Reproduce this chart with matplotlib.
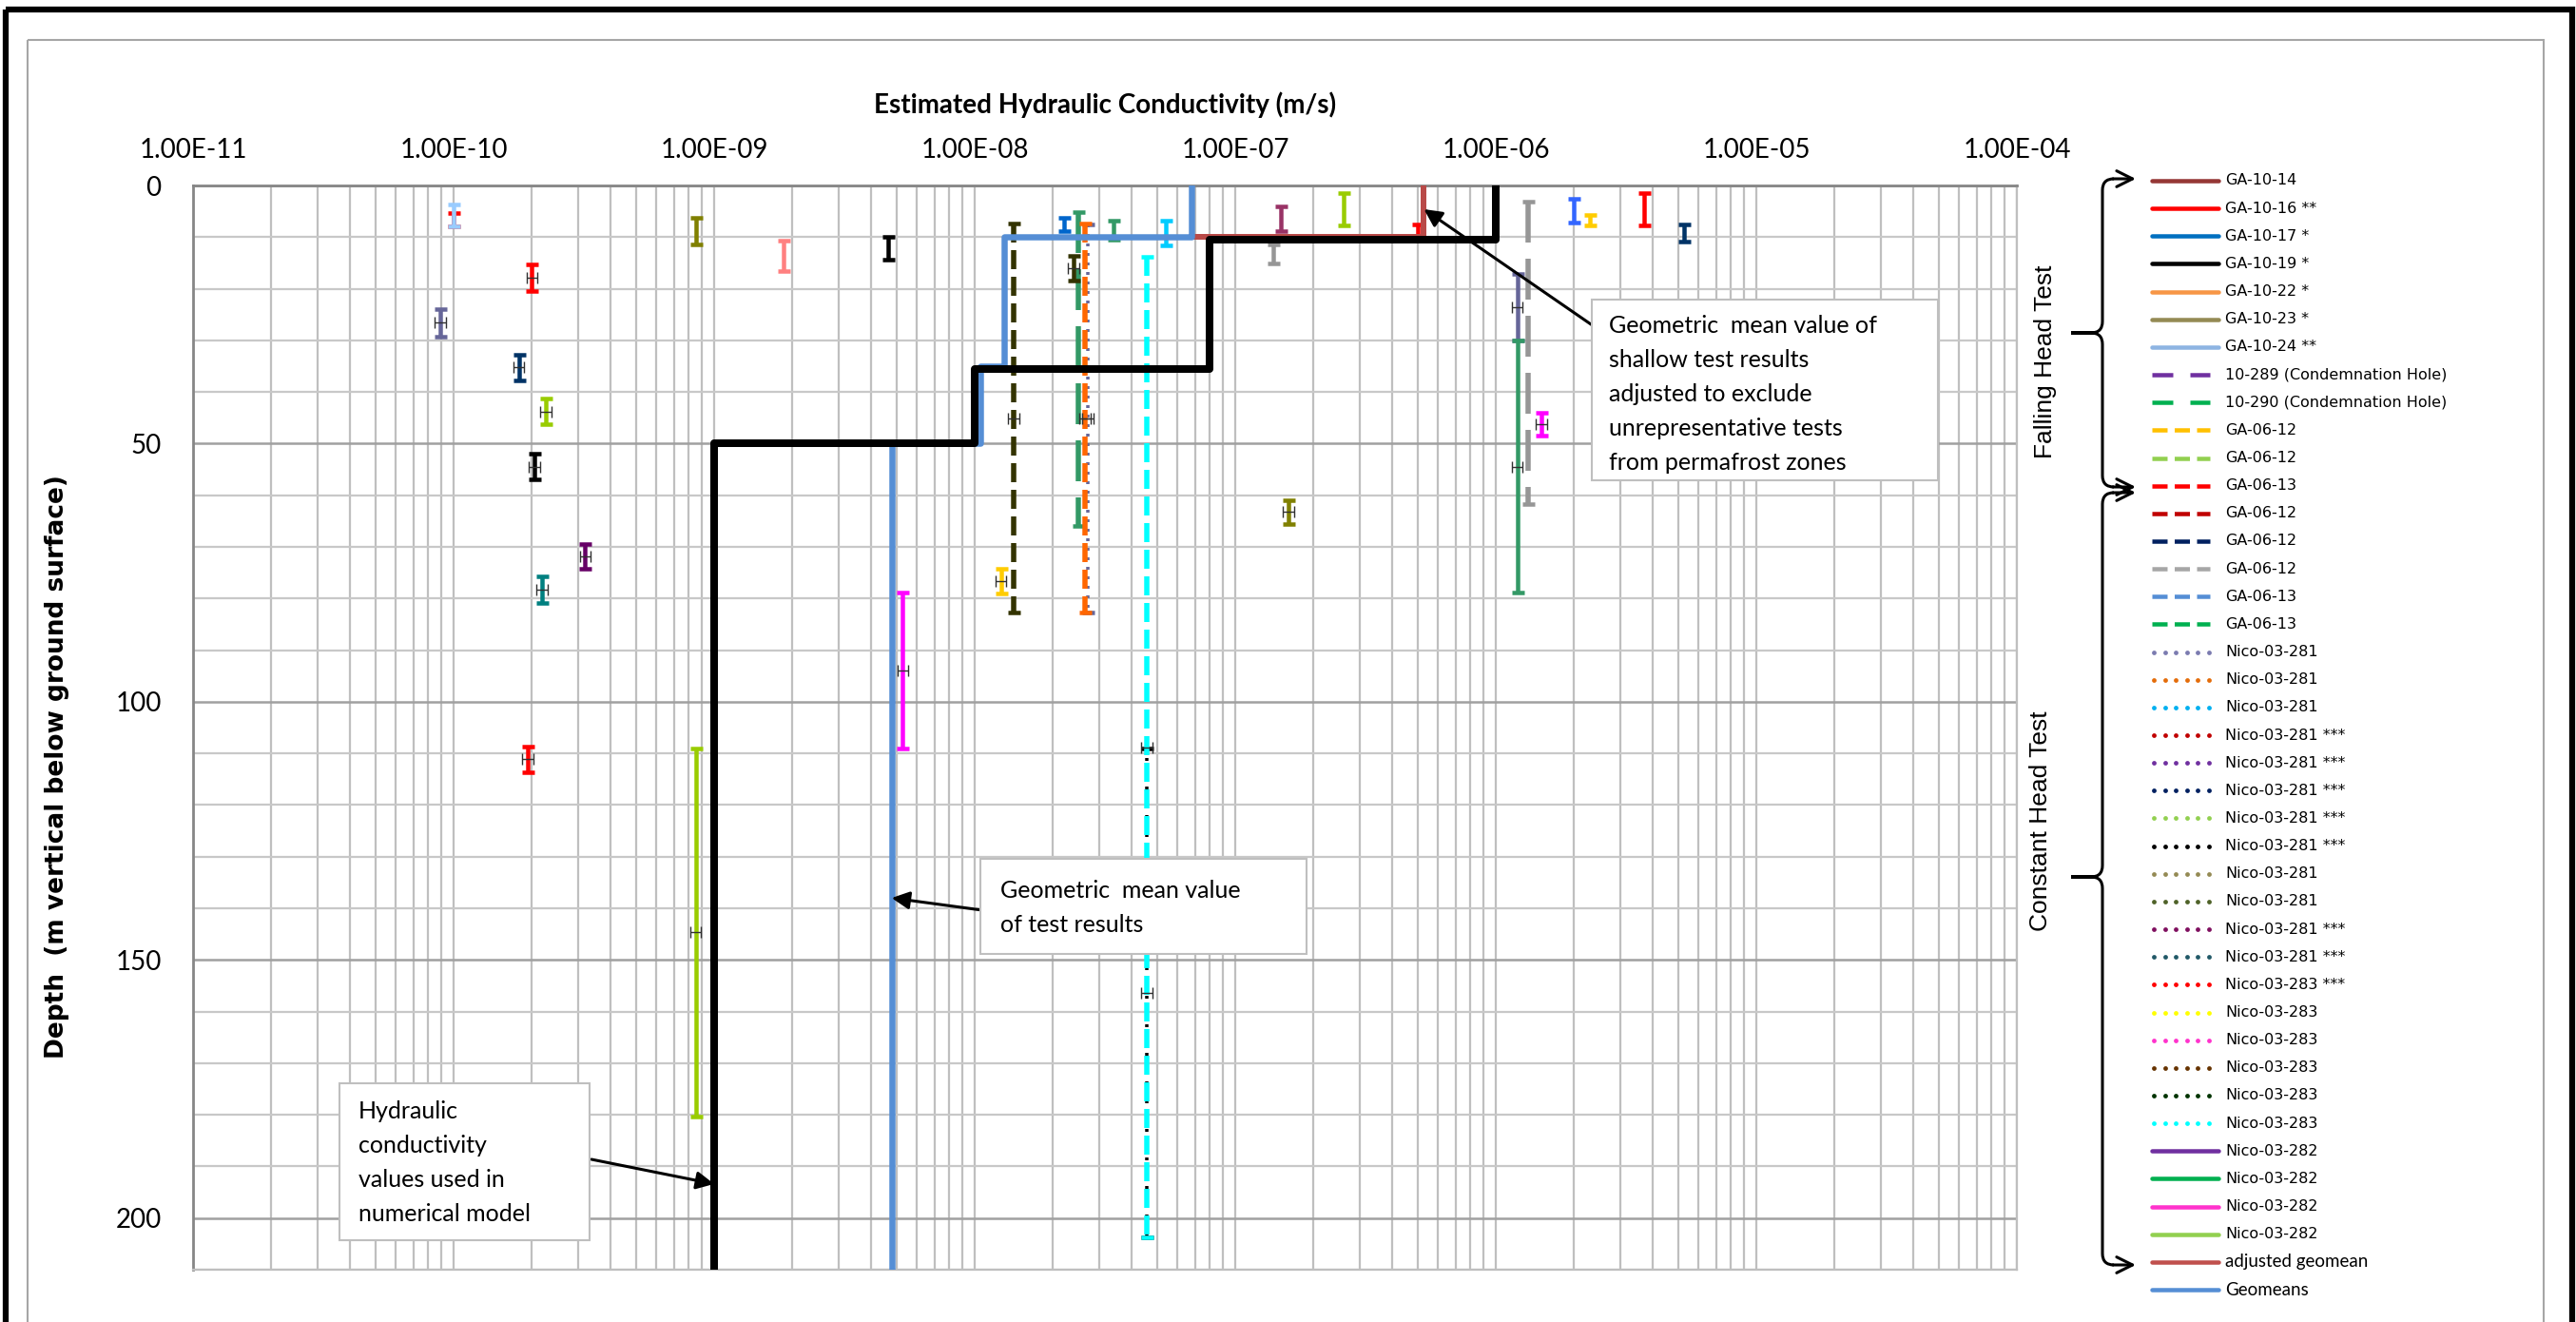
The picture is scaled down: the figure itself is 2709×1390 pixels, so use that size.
import numpy as np
import matplotlib
matplotlib.use('Agg')
import matplotlib.pyplot as plt
from matplotlib.patches import Rectangle, PathPatch
from matplotlib.path import Path
from matplotlib.ticker import FixedLocator, NullFormatter, FuncFormatter

plt.rcParams['lines.scale_dashes'] = False

# ---- packer tests: K (m/s), top / bottom of tested interval (m) ----
k_tests = [1.0e-10, 1.0e-10, 8.5e-10, 1.85e-9, 2.0e-10, 8.9e-11, 1.78e-10, 2.26e-10,
           2.04e-10, 3.2e-10, 2.18e-10, 1.93e-10, 8.5e-10, 5.3e-9, 4.66e-9, 1.41e-8,
           2.2e-8, 2.5e-8, 2.72e-8, 2.65e-8, 2.4e-8, 1.26e-8, 3.4e-8, 5.4e-8,
           4.57e-8, 4.57e-8, 1.5e-7, 2.6e-7, 1.4e-7, 1.6e-7, 5.0e-7, 1.33e-6,
           1.21e-6, 1.21e-6, 1.5e-6, 2.0e-6, 2.3e-6, 3.7e-6, 5.3e-6]
top_depth = [5.3, 3.7, 6.3, 10.7, 15.3, 24.0, 32.7, 41.3,
             52.0, 69.4, 75.8, 108.7, 109.0, 78.8, 9.9, 7.4,
             6.3, 5.2, 7.6, 7.4, 13.7, 74.3, 6.9, 6.8,
             13.9, 109.0, 4.1, 1.5, 11.4, 61.0, 7.5, 3.2,
             17.1, 30.1, 44.0, 2.5, 5.7, 1.5, 7.5]
bot_depth = [7.9, 7.9, 11.4, 16.6, 20.5, 29.2, 37.7, 46.3,
             57.0, 74.2, 80.8, 113.6, 180.3, 109.0, 14.4, 82.7,
             8.9, 66.0, 82.7, 82.7, 18.4, 79.0, 10.5, 11.6,
             203.7, 203.7, 8.9, 7.7, 15.1, 65.5, 10.5, 61.8,
             30.1, 78.8, 48.5, 7.2, 7.7, 7.7, 10.9]
test_colors = ['#FF0000', '#99CCFF', '#808000', '#FF8080', '#FF0000', '#666699', '#003366', '#99CC00',
               '#000000', '#660066', '#008080', '#FF0000', '#99CC00', '#FF00FF', '#000000', '#333300',
               '#0066CC', '#339966', '#666699', '#FF6600', '#333300', '#FFCC00', '#339966', '#00CCFF',
               '#00FFFF', '#000000', '#993366', '#99CC00', '#969696', '#808000', '#FF0000', '#969696',
               '#666699', '#339966', '#FF00FF', '#3366FF', '#FFCC00', '#FF0000', '#003366']
test_styles = ['solid', 'solid', 'solid', 'solid', 'solid', 'solid', 'solid', 'solid',
               'solid', 'solid', 'solid', 'solid', 'solid', 'solid', 'solid', 'dash',
               'solid', 'longdash', 'dot', 'dash', 'solid', 'solid', 'solid', 'solid',
               'dash', 'dot', 'solid', 'solid', 'solid', 'solid', 'solid', 'longdash',
               'solid', 'solid', 'solid', 'solid', 'solid', 'solid', 'solid']
centre_mark = [0, 0, 0, 0, 1, 1, 1, 1,
               1, 1, 1, 1, 1, 1, 0, 1,
               0, 0, 1, 1, 1, 1, 0, 0,
               1, 1, 0, 0, 0, 1, 0, 0,
               1, 1, 1, 0, 0, 0, 0]

# ---- step profiles ----
geomean_k = [6.8e-8, 6.8e-8, 1.3e-8, 1.3e-8, 1.05e-8, 1.05e-8, 4.8e-9, 4.8e-9]
geomean_d = [0, 10, 10, 35, 35, 50, 50, 210]
adjusted_k = [5.3e-7, 5.3e-7, 6.8e-8]
adjusted_d = [0, 10, 10]
model_k = [1e-6, 1e-6, 8e-8, 8e-8, 1e-8, 1e-8, 1e-9, 1e-9]
model_d = [0, 10.5, 10.5, 35.5, 35.5, 50, 50, 210]

# ---- legend ----
legend_labels = ['GA-10-14', 'GA-10-16 **', 'GA-10-17 *', 'GA-10-19 *', 'GA-10-22 *', 'GA-10-23 *',
                 'GA-10-24 **', '10-289 (Condemnation Hole)', '10-290 (Condemnation Hole)',
                 'GA-06-12', 'GA-06-12', 'GA-06-13', 'GA-06-12', 'GA-06-12', 'GA-06-12', 'GA-06-13',
                 'GA-06-13', 'Nico-03-281', 'Nico-03-281', 'Nico-03-281', 'Nico-03-281 ***',
                 'Nico-03-281 ***', 'Nico-03-281 ***', 'Nico-03-281 ***', 'Nico-03-281 ***',
                 'Nico-03-281', 'Nico-03-281', 'Nico-03-281 ***', 'Nico-03-281 ***', 'Nico-03-283 ***',
                 'Nico-03-283', 'Nico-03-283', 'Nico-03-283', 'Nico-03-283', 'Nico-03-283',
                 'Nico-03-282', 'Nico-03-282', 'Nico-03-282', 'Nico-03-282', 'adjusted geomean', 'Geomeans']
legend_colors = ['#953735', '#FF0000', '#0070C0', '#000000', '#F79646', '#948A54', '#8DB4E2',
                 '#7030A0', '#00B050', '#FFC000', '#92D050', '#FF0000', '#C00000', '#002060',
                 '#A6A6A6', '#558ED5', '#00B050', '#7B7BB0', '#E46C0A', '#00B0F0', '#C00000',
                 '#7030A0', '#002060', '#92D050', '#000000', '#948A54', '#4F6228', '#7F0F5F',
                 '#215967', '#FF0000', '#FFFF00', '#FF33CC', '#663300', '#003300', '#00FFFF',
                 '#7030A0', '#00B050', '#FF33CC', '#92D050', '#C0504D', '#558ED5']
legend_styles = ['solid'] * 7 + ['longdash'] * 2 + ['dash'] * 8 + ['dot'] * 18 + ['solid'] * 6

W, H = 2709, 1390
px = 72 / 100.0  # pixels -> points

fig = plt.figure(figsize=(W / 100, H / 100), dpi=100)
ax = fig.add_axes([203 / W, 1 - 1335 / H, (2121 - 203) / W, (1335 - 195) / H])

dash_map = {'dash': (0, (20 * px, 8 * px)),
            'longdash': (0, (43 * px, 17 * px)),
            'dot': (0, (3 * px, 7 * px))}

for k, t, b, c, s, m in zip(k_tests, top_depth, bot_depth, test_colors, test_styles, centre_mark):
    mid = (t + b) / 2
    if s == 'solid':
        lw = 4.5 * px
    elif s == 'dot':
        lw = 3.5 * px
    else:
        lw = 5.5 * px
    eb = ax.errorbar(k, mid, yerr=(b - t) / 2, fmt='none', ecolor=c, elinewidth=lw,
                     capsize=6.5 * px, capthick=4.5 * px, zorder=2.5 if s == 'dot' else 3)
    if s != 'solid':
        eb[2][0].set_linestyle(dash_map[s])
    if m:
        ax.errorbar(k, mid, xerr=[[k - k / 1.05], [k * 1.05 - k]], fmt='none', ecolor='#303030',
                    elinewidth=1.0, capsize=4, capthick=1.0, zorder=4)

ax.plot(adjusted_k, adjusted_d, color='#B94A48', lw=6 * px, zorder=5)
ax.plot(geomean_k, geomean_d, color='#558ED5', lw=6.5 * px, zorder=6)
ax.plot(model_k, model_d, color='black', lw=8 * px, zorder=7)

ax.set_xscale('log')
ax.set_xlim(1e-11, 1e-4)
ax.set_ylim(210, 0)
decades = 10.0 ** np.arange(-11, -3)
ax.xaxis.set_major_locator(FixedLocator(decades))
ax.xaxis.set_minor_locator(FixedLocator((decades[:-1, None] * np.arange(2, 10)).ravel()))
ax.xaxis.set_minor_formatter(NullFormatter())
ax.xaxis.set_major_formatter(FuncFormatter(lambda v, p: f'{v:.2E}'))
ax.xaxis.tick_top()
ax.set_yticks(np.arange(0, 201, 50))
ax.set_yticks(np.arange(0, 211, 10), minor=True)
ax.tick_params(axis='x', which='both', length=0, pad=17, labelsize=20)
ax.tick_params(axis='y', which='both', length=0, pad=24, labelsize=20)
for lab in ax.get_xticklabels() + ax.get_yticklabels():
    lab.set_family('Lato')
ax.set_axisbelow(True)
ax.grid(which='both', axis='x', color='#BFBFBF', lw=1.6)
ax.grid(which='minor', axis='y', color='#C8C8C8', lw=1.6)
ax.grid(which='major', axis='y', color='#A0A0A0', lw=1.8)
for side in ['top', 'left']:
    ax.spines[side].set_color('#868686')
    ax.spines[side].set_linewidth(2)
for side in ['right', 'bottom']:
    ax.spines[side].set_color('#BFBFBF')
    ax.spines[side].set_linewidth(1.6)

fig.text(1162 / W, 1 - 110 / H, 'Estimated Hydraulic Conductivity (m/s)', ha='center', va='center',
         fontsize=20, fontweight='bold', family='Lato')
fig.text(60 / W, 1 - 806 / H, 'Depth  (m vertical below ground surface)', rotation=90,
         ha='center', va='center', fontsize=19, fontweight='bold', family='DejaVu Sans')

# arrows from callout boxes
arrow_kw = dict(arrowstyle='-|>', color='black', lw=2.2, mutation_scale=28, shrinkA=0, shrinkB=0)
ax.annotate('', xy=(5.3e-7, 4.6), xytext=(1676, H - 343), textcoords='figure pixels',
            arrowprops=arrow_kw, zorder=8)
ax.annotate('', xy=(4.8e-9, 138), xytext=(1033, H - 957), textcoords='figure pixels',
            arrowprops=arrow_kw, zorder=8)
ax.annotate('', xy=(1e-9, 193.4), xytext=(622, H - 1219), textcoords='figure pixels',
            arrowprops=arrow_kw, zorder=8)

# overlay in pixel coordinates
ov = fig.add_axes([0, 0, 1, 1])
ov.set_xlim(0, W)
ov.set_ylim(H, 0)
ov.axis('off')
ov.patch.set_alpha(0)

ov.add_patch(Rectangle((6, 10), 2699, 1400, fill=False, ec='black', lw=4.5))
ov.add_patch(Rectangle((29, 42), 2646, 1400, fill=False, ec='#A6A6A6', lw=1.5))

boxes = [
    ((1674, 315, 364, 190), 1692, 343, ['Geometric  mean value of', 'shallow test results',
                                        'adjusted to exclude', 'unrepresentative tests',
                                        'from permafrost zones']),
    ((1031, 903, 343, 100), 1052, 937, ['Geometric  mean value', 'of test results']),
    ((357, 1139, 263, 165), 377, 1168, ['Hydraulic', 'conductivity', 'values used in',
                                        'numerical model']),
]
for (bx, by, bw, bh), tx, ty, lines in boxes:
    ov.add_patch(Rectangle((bx, by), bw, bh, fc='white', ec='#BFBFBF', lw=1.5))
    for j, line in enumerate(lines):
        ov.text(tx, ty + j * 36, line, va='center', ha='left', fontsize=18, family='Lato')

# legend
for i, (lab, col, sty) in enumerate(zip(legend_labels, legend_colors, legend_styles)):
    y = 190 + i * 29.15
    if sty == 'solid':
        ov.plot([2263, 2333], [y, y], color=col, lw=4.5 * px, solid_capstyle='round')
    elif sty == 'longdash':
        ov.plot([2263, 2324], [y, y], color=col, lw=4.5 * px, dashes=(22 * px, 18 * px))
    elif sty == 'dash':
        ov.plot([2263, 2324], [y, y], color=col, lw=4.5 * px, dashes=(16 * px, 7.5 * px))
    else:
        ov.plot(np.linspace(2265, 2323, 6), [y] * 6, 'o', color=col, ms=4.8 * px, mew=0)
    if i >= 39:
        ov.text(2340, y, lab, va='center', ha='left', fontsize=13.5, family='Lato')
    else:
        ov.text(2340, y, lab, va='center', ha='left', fontsize=11.5, family='DejaVu Sans')


def brace(y0, ym, y1, xv=2211, xt=2178, r=12):
    verts = [(xv + r, y0), (xv, y0), (xv, y0 + r), (xv, ym - r), (xv, ym), (xv - r, ym),
             (xt, ym), (xv - r, ym), (xv, ym), (xv, ym + r), (xv, y1 - r), (xv, y1), (xv + r, y1)]
    codes = [Path.MOVETO, Path.CURVE3, Path.CURVE3, Path.LINETO, Path.CURVE3, Path.CURVE3,
             Path.LINETO, Path.LINETO, Path.CURVE3, Path.CURVE3, Path.LINETO, Path.CURVE3, Path.CURVE3]
    ov.add_patch(PathPatch(Path(verts, codes), fill=False, ec='black', lw=2.2))
    for yy in (y0, y1):
        ov.annotate('', xy=(2246, yy), xytext=(xv + r - 1, yy),
                    arrowprops=dict(arrowstyle='->', color='black', lw=2.2, mutation_scale=30,
                                    shrinkA=0, shrinkB=0))


brace(188, 350, 512)
brace(518, 922, 1330)
ov.text(2151, 380, 'Falling Head Test', rotation=90, ha='center', va='center', fontsize=19,
        family='Liberation Sans')
ov.text(2146, 863, 'Constant Head Test', rotation=90, ha='center', va='center', fontsize=19,
        family='Liberation Sans')

fig.savefig('out.png', dpi=100)
